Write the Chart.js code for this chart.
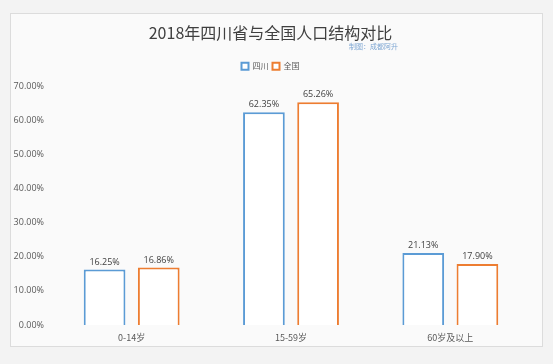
<!DOCTYPE html>
<html>
<head>
<meta charset="utf-8">
<script src="https://cdn.jsdelivr.net/npm/chart.js@4/dist/chart.umd.min.js"></script>
<style>
    html, body { margin: 0; padding: 0; background: #f3f3f3; }
    #frame {
        position: absolute; left: 10px; top: 13px;
        width: 533px; height: 334px;
        border: 1px solid #dcdcdc; box-sizing: border-box;
        background: #fafafa;
    }
    #chart { display: block; }
</style>
</head>
<body>
<div id="frame"><canvas id="chart" width="531" height="332"></canvas></div>
<script>
const categories = ['0-14岁', '15-59岁', '60岁及以上'];
const sichuan = [16.25, 62.35, 21.13];
const national = [16.86, 65.26, 17.90];
const seriesNames = ['四川', '全国'];
const yTicksMax = 70;
const yTicksStep = 10;

// Draw the value above every bar
const valueLabels = {
    id: 'valueLabels',
    afterDatasetsDraw(chart) {
        const ctx = chart.ctx;
        ctx.save();
        ctx.font = '9px "Open Sans", "Noto Sans", sans-serif';
        ctx.fillStyle = '#404040';
        ctx.textAlign = 'center';
        ctx.textBaseline = 'bottom';
        chart.data.datasets.forEach((ds, i) => {
            chart.getDatasetMeta(i).data.forEach((bar, j) => {
                ctx.fillText(ds.data[j].toFixed(2) + '%', bar.x, bar.y - 3);
            });
        });
        ctx.restore();
    }
};

// Small credit line under the title
const credit = {
    id: 'credit',
    afterDraw(chart) {
        const ctx = chart.ctx;
        ctx.save();
        ctx.font = '7px "Noto Sans CJK SC", sans-serif';
        ctx.fillStyle = '#7fa7d3';
        ctx.textAlign = 'right';
        ctx.textBaseline = 'middle';
        ctx.fillText('制图：成都阿升', 387, 32);
        ctx.restore();
    }
};

// extra room under the legend
const legendGap = {
    id: 'legendGap',
    beforeInit(chart) {
        const fit = chart.legend.fit;
        chart.legend.fit = function () {
            fit.call(this);
            this.height += 6;
        };
    }
};

new Chart(document.getElementById('chart'), {
    type: 'bar',
    data: {
        labels: categories,
        datasets: [
            {
                label: seriesNames[0],
                data: sichuan,
                backgroundColor: '#ffffff',
                borderColor: '#5b9bd5',
                borderWidth: 2
            },
            {
                label: seriesNames[1],
                data: national,
                backgroundColor: '#ffffff',
                borderColor: '#ed7d31',
                borderWidth: 2
            }
        ]
    },
    options: {
        responsive: false,
        animation: false,
        categoryPercentage: 0.68,
        barPercentage: 0.77,
        layout: {
            padding: { left: 0, right: 12, top: 0, bottom: 4 }
        },
        plugins: {
            title: {
                display: true,
                text: '2018年四川省与全国人口结构对比',
                color: '#404040',
                font: { family: '"Noto Sans CJK SC", sans-serif', size: 16, weight: 'normal' },
                padding: { top: 9, bottom: 16 }
            },
            legend: {
                display: true,
                position: 'top',
                labels: {
                    boxWidth: 7,
                    boxHeight: 7,
                    padding: 4,
                    color: '#595959',
                    font: { family: '"Noto Sans CJK SC", sans-serif', size: 8 }
                }
            },
            tooltip: { enabled: false }
        },
        scales: {
            x: {
                grid: { display: false },
                border: { display: false },
                ticks: {
                    color: '#595959',
                    padding: 0,
                    font: { family: '"Noto Sans CJK SC", sans-serif', size: 9, lineHeight: 1 }
                }
            },
            y: {
                min: 0,
                max: yTicksMax,
                grid: { display: false },
                border: { display: false },
                afterFit(scale) { scale.width = 41; },
                ticks: {
                    stepSize: yTicksStep,
                    padding: 0,
                    color: '#595959',
                    font: { family: '"Open Sans", "Noto Sans", sans-serif', size: 9 },
                    callback: v => v.toFixed(2) + '%'
                }
            }
        }
    },
    plugins: [valueLabels, credit, legendGap]
});
</script>
</body>
</html>
